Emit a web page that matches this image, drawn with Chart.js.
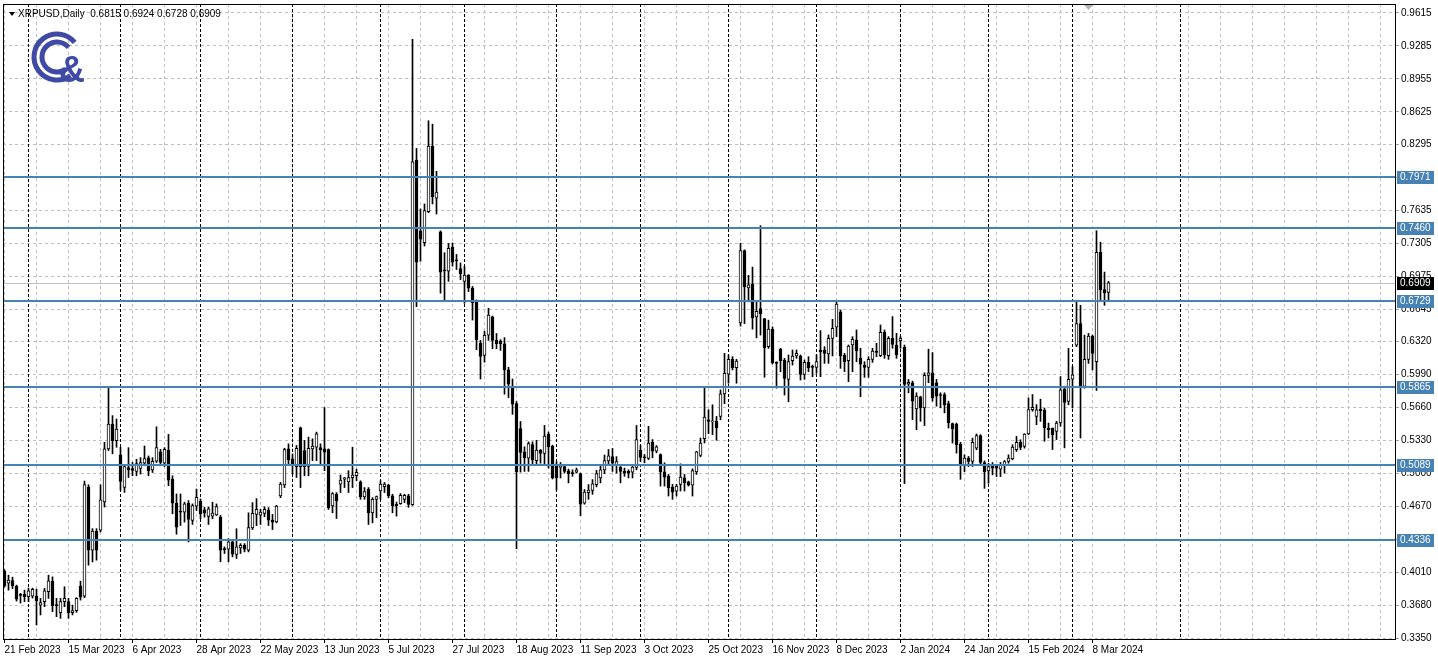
<!DOCTYPE html>
<html>
<head>
<meta charset="utf-8">
<script src="https://cdn.jsdelivr.net/npm/chart.js@4.4.1/dist/chart.umd.min.js"></script>
<style>
  html, body { margin: 0; padding: 0; background: #fff; }
  canvas { display: block; }
</style>
</head>
<body>
<canvas id="chart" width="1438" height="671"></canvas>
<script>
// daily XRPUSD bars, 21 Feb 2023 .. 14 Mar 2024 (weekdays only)
const opens = [
  0.4020,0.3900,0.3925,0.3870,0.3785,0.3787,0.3764,0.3770,0.3770,0.3680,
  0.3714,0.3814,0.3917,0.3680,0.3604,0.3714,0.3714,0.3604,0.3624,0.3870,
  0.3770,0.4863,0.4230,0.4420,0.4430,0.4713,0.5246,0.5495,0.5329,0.5185,
  0.4860,0.5059,0.5049,0.5019,0.5049,0.5102,0.5155,0.5036,0.5122,0.5215,
  0.5102,0.5231,0.4943,0.4701,0.4618,0.4611,0.4701,0.4528,0.4671,0.4721,
  0.4634,0.4568,0.4571,0.4585,0.4561,0.4246,0.4240,0.4313,0.4187,0.4253,
  0.4280,0.4230,0.4454,0.4589,0.4582,0.4599,0.4629,0.4531,0.4514,0.4774,
  0.4885,0.5246,0.5145,0.5067,0.5458,0.5229,0.5071,0.5246,0.5263,0.5260,
  0.5246,0.5239,0.4673,0.4791,0.4892,0.4942,0.4915,0.4956,0.4976,0.4915,
  0.4764,0.4841,0.4605,0.4740,0.4824,0.4868,0.4882,0.4774,0.4690,0.4696,
  0.4740,0.4774,0.4687,0.8140,0.7431,0.7313,0.7623,0.8282,0.7758,0.7421,
  0.7036,0.7026,0.7269,0.7137,0.7053,0.6925,0.6989,0.6857,0.6729,0.6307,
  0.6182,0.6385,0.6570,0.6334,0.6327,0.6300,0.6037,0.5868,0.5700,0.5450,
  0.5217,0.5152,0.5290,0.5128,0.5234,0.5201,0.5392,0.5273,0.5076,0.5059,
  0.5069,0.5026,0.5003,0.5013,0.4997,0.4701,0.4806,0.4829,0.4888,0.4954,
  0.5036,0.5125,0.5168,0.5086,0.5063,0.5020,0.5020,0.5013,0.5059,0.5230,
  0.5160,0.5149,0.5312,0.5222,0.5189,0.5016,0.4973,0.4863,0.4823,0.4890,
  0.4956,0.4916,0.4883,0.5016,0.5179,0.5349,0.5538,0.5515,0.5522,0.5571,
  0.5797,0.5994,0.6143,0.6060,0.6509,0.7234,0.6858,0.6895,0.6569,0.6652,
  0.6552,0.6270,0.6443,0.6110,0.6244,0.6137,0.5943,0.6130,0.6177,0.6177,
  0.5993,0.6113,0.6070,0.6063,0.6237,0.6237,0.6197,0.6354,0.6465,0.6619,
  0.6187,0.6130,0.6287,0.6337,0.6153,0.6086,0.6063,0.6143,0.6227,0.6180,
  0.6414,0.6180,0.6354,0.6287,0.6330,0.6264,0.5895,0.5909,0.5647,0.5768,
  0.5657,0.5983,0.6009,0.5909,0.5791,0.5791,0.5700,0.5499,0.5495,0.5294,
  0.5085,0.5153,0.5119,0.5253,0.5378,0.5109,0.5025,0.5092,0.5075,0.5042,
  0.5079,0.5119,0.5146,0.5237,0.5311,0.5270,0.5395,0.5640,0.5571,0.5645,
  0.5631,0.5455,0.5455,0.5422,0.5505,0.5844,0.5721,0.5944,0.6286,0.6502,
  0.5871,0.6143,0.6376,0.6120,0.7217,0.6842,0.6815
];
const highs = [
  0.4035,0.3980,0.3960,0.3880,0.3797,0.3830,0.3850,0.3850,0.3840,0.3747,
  0.3847,0.3980,0.3963,0.3747,0.3747,0.3864,0.3747,0.3680,0.3754,0.3920,
  0.4923,0.4886,0.4446,0.4446,0.4886,0.5312,0.5852,0.5579,0.5545,0.5262,
  0.5082,0.5258,0.5109,0.5142,0.5158,0.5275,0.5175,0.5158,0.5467,0.5241,
  0.5258,0.5391,0.4976,0.4794,0.4794,0.4711,0.4727,0.4694,0.4843,0.4744,
  0.4661,0.4661,0.4711,0.4694,0.4578,0.4263,0.4346,0.4329,0.4445,0.4296,
  0.4296,0.4605,0.4707,0.4747,0.4639,0.4666,0.4656,0.4589,0.4680,0.4909,
  0.5252,0.5296,0.5195,0.5279,0.5465,0.5330,0.5364,0.5347,0.5414,0.5296,
  0.5660,0.5246,0.4808,0.4808,0.4983,0.4959,0.5027,0.5263,0.5044,0.4926,
  0.4858,0.4858,0.4757,0.4774,0.4926,0.4909,0.4892,0.4791,0.4713,0.4798,
  0.4791,0.4791,0.9350,0.8258,0.7650,0.7701,0.8535,0.8501,0.8028,0.7431,
  0.7212,0.7306,0.7310,0.7195,0.7110,0.7077,0.6992,0.6874,0.6739,0.6334,
  0.6426,0.6655,0.6577,0.6402,0.6341,0.6361,0.6064,0.5946,0.5720,0.5520,
  0.5267,0.5316,0.5316,0.5332,0.5240,0.5481,0.5415,0.5283,0.5119,0.5109,
  0.5079,0.5043,0.5036,0.5053,0.5003,0.4839,0.4888,0.4938,0.5030,0.5076,
  0.5184,0.5240,0.5250,0.5168,0.5069,0.5053,0.5036,0.5086,0.5481,0.5280,
  0.5189,0.5472,0.5339,0.5279,0.5196,0.5106,0.4990,0.4890,0.4890,0.5096,
  0.4990,0.4923,0.5046,0.5222,0.5355,0.5854,0.5638,0.5688,0.5571,0.5837,
  0.6203,0.6187,0.6170,0.6143,0.7307,0.7241,0.6985,0.7068,0.6719,0.7483,
  0.6552,0.6536,0.6469,0.6120,0.6254,0.6153,0.6187,0.6237,0.6237,0.6187,
  0.6137,0.6170,0.6086,0.6187,0.6431,0.6270,0.6388,0.6545,0.6732,0.6639,
  0.6203,0.6287,0.6371,0.6438,0.6254,0.6120,0.6170,0.6254,0.6304,0.6488,
  0.6438,0.6371,0.6572,0.6404,0.6371,0.6287,0.5942,0.5925,0.5808,0.5774,
  0.6009,0.6245,0.6211,0.5942,0.5808,0.5808,0.5724,0.5505,0.5505,0.5311,
  0.5186,0.5170,0.5354,0.5395,0.5388,0.5126,0.5102,0.5109,0.5092,0.5109,
  0.5129,0.5186,0.5287,0.5371,0.5337,0.5398,0.5757,0.5791,0.5690,0.5744,
  0.5655,0.5505,0.5455,0.5522,0.5970,0.5854,0.6253,0.6070,0.6735,0.6685,
  0.6386,0.6403,0.6386,0.7433,0.7317,0.7018,0.6924
];
const lows = [
  0.3860,0.3830,0.3845,0.3720,0.3700,0.3715,0.3714,0.3750,0.3481,0.3581,
  0.3664,0.3747,0.3614,0.3564,0.3547,0.3664,0.3547,0.3581,0.3607,0.3730,
  0.3754,0.4080,0.4113,0.4130,0.4413,0.4663,0.5229,0.5196,0.5262,0.4830,
  0.4810,0.4959,0.4976,0.4976,0.4993,0.5076,0.4976,0.5009,0.5109,0.5076,
  0.5069,0.4877,0.4595,0.4390,0.4478,0.4512,0.4313,0.4488,0.4628,0.4545,
  0.4561,0.4488,0.4545,0.4578,0.4114,0.4197,0.4114,0.4163,0.4147,0.4197,
  0.4213,0.4213,0.4437,0.4477,0.4488,0.4565,0.4477,0.4437,0.4504,0.4757,
  0.4858,0.5077,0.4993,0.4959,0.4858,0.4976,0.4976,0.5128,0.5128,0.5094,
  0.5027,0.4639,0.4605,0.4548,0.4808,0.4858,0.4808,0.4858,0.4926,0.4740,
  0.4740,0.4488,0.4504,0.4555,0.4740,0.4808,0.4757,0.4605,0.4572,0.4690,
  0.4707,0.4660,0.4680,0.6672,0.7127,0.7279,0.7613,0.7701,0.7600,0.6807,
  0.6739,0.6925,0.7077,0.7043,0.6942,0.6705,0.6823,0.6537,0.6240,0.5946,
  0.6115,0.6334,0.6250,0.6250,0.6233,0.5794,0.5760,0.5592,0.4245,0.5013,
  0.5020,0.5020,0.5086,0.5086,0.5102,0.5086,0.5053,0.4944,0.4832,0.4954,
  0.5003,0.4905,0.4971,0.5003,0.4576,0.4691,0.4740,0.4790,0.4865,0.4905,
  0.4997,0.5086,0.5020,0.5003,0.4905,0.4971,0.4954,0.4954,0.5036,0.5120,
  0.5106,0.5139,0.5156,0.5206,0.4873,0.4873,0.4773,0.4740,0.4773,0.4823,
  0.4823,0.4873,0.4773,0.4990,0.5166,0.5305,0.5399,0.5389,0.5332,0.5538,
  0.5698,0.5904,0.6037,0.5904,0.6476,0.6502,0.6719,0.6446,0.6359,0.6386,
  0.5964,0.6253,0.6097,0.5854,0.6019,0.5785,0.5718,0.6086,0.6153,0.5936,
  0.5943,0.6019,0.5969,0.6003,0.5969,0.6103,0.6103,0.6177,0.6371,0.6053,
  0.6019,0.5919,0.6019,0.6120,0.5768,0.5963,0.5963,0.6113,0.6170,0.6170,
  0.6153,0.6143,0.6254,0.6153,0.6254,0.4898,0.5808,0.5539,0.5438,0.5522,
  0.5479,0.5909,0.5724,0.5673,0.5657,0.5606,0.5455,0.5304,0.5203,0.4941,
  0.5018,0.5069,0.5069,0.5237,0.5085,0.4850,0.4901,0.4985,0.4968,0.4968,
  0.5002,0.5102,0.5136,0.5220,0.5237,0.5253,0.5388,0.5623,0.5488,0.5522,
  0.5322,0.5355,0.5239,0.5339,0.5472,0.5256,0.5688,0.5655,0.6270,0.5355,
  0.5854,0.6103,0.6037,0.5831,0.6735,0.6685,0.6728
];
const closes = [
  0.3875,0.3930,0.3872,0.3740,0.3778,0.3764,0.3824,0.3837,0.3724,0.3704,
  0.3824,0.3924,0.3674,0.3674,0.3714,0.3747,0.3604,0.3624,0.3747,0.3760,
  0.4889,0.4230,0.4423,0.4230,0.4736,0.5246,0.5495,0.5329,0.5445,0.4920,
  0.5069,0.5036,0.5029,0.5099,0.5109,0.5149,0.5026,0.5122,0.5258,0.5109,
  0.5241,0.4933,0.4701,0.4460,0.4611,0.4694,0.4538,0.4677,0.4760,0.4595,
  0.4601,0.4644,0.4601,0.4668,0.4230,0.4236,0.4313,0.4190,0.4263,0.4280,
  0.4240,0.4458,0.4599,0.4639,0.4612,0.4639,0.4531,0.4511,0.4673,0.4892,
  0.5239,0.5135,0.5084,0.5252,0.5067,0.5067,0.5252,0.5273,0.5397,0.5236,
  0.5212,0.4656,0.4798,0.4723,0.4932,0.4956,0.4959,0.4983,0.5010,0.4764,
  0.4818,0.4605,0.4740,0.4767,0.4892,0.4892,0.4774,0.4673,0.4673,0.4781,
  0.4781,0.4690,0.8123,0.7117,0.7347,0.7634,0.8282,0.7775,0.7819,0.7016,
  0.7030,0.7256,0.7117,0.7131,0.7002,0.6989,0.6857,0.6712,0.6341,0.6172,
  0.6385,0.6587,0.6334,0.6300,0.6300,0.6037,0.5895,0.5693,0.5018,0.5211,
  0.5158,0.5300,0.5135,0.5234,0.5201,0.5375,0.5267,0.4954,0.4954,0.5073,
  0.5020,0.4997,0.4997,0.5036,0.4691,0.4813,0.4832,0.4895,0.4997,0.5036,
  0.5128,0.5175,0.5102,0.5119,0.5020,0.5003,0.5003,0.5063,0.5339,0.5160,
  0.5156,0.5305,0.5222,0.5266,0.5016,0.4963,0.4857,0.4813,0.4873,0.4963,
  0.4906,0.4883,0.5029,0.5216,0.5305,0.5565,0.5522,0.5528,0.5455,0.5797,
  0.6004,0.6143,0.6060,0.6127,0.7234,0.6868,0.6891,0.6559,0.6625,0.6602,
  0.6260,0.6446,0.6110,0.6103,0.6130,0.5953,0.6120,0.6177,0.6203,0.5993,
  0.6113,0.6060,0.6063,0.6120,0.6220,0.6203,0.6354,0.6455,0.6696,0.6177,
  0.6120,0.6277,0.6344,0.6230,0.6096,0.6063,0.6143,0.6227,0.6213,0.6414,
  0.6187,0.6354,0.6294,0.6187,0.6354,0.5892,0.5912,0.5724,0.5774,0.5657,
  0.5983,0.6009,0.5757,0.5774,0.5781,0.5690,0.5505,0.5445,0.5287,0.5085,
  0.5153,0.5119,0.5311,0.5378,0.5109,0.5018,0.5069,0.5052,0.5052,0.5085,
  0.5119,0.5153,0.5264,0.5311,0.5260,0.5395,0.5640,0.5663,0.5638,0.5628,
  0.5455,0.5438,0.5388,0.5505,0.5837,0.5711,0.5944,0.5987,0.6502,0.5861,
  0.6143,0.6376,0.6203,0.7217,0.6842,0.6808,0.6909
];

// one date label every 16 bars
const dateLabels = [
  '21 Feb 2023', '15 Mar 2023', '6 Apr 2023', '28 Apr 2023', '22 May 2023',
  '13 Jun 2023', '5 Jul 2023', '27 Jul 2023', '18 Aug 2023', '11 Sep 2023',
  '3 Oct 2023', '25 Oct 2023', '16 Nov 2023', '8 Dec 2023', '2 Jan 2024',
  '24 Jan 2024', '15 Feb 2024', '8 Mar 2024'
];
const priceTicks = [
  0.9615, 0.9285, 0.8955, 0.8625, 0.8295, 0.7965, 0.7635, 0.7305, 0.6975, 0.6645,
  0.6320, 0.5990, 0.5660, 0.5330, 0.5000, 0.4670, 0.4340, 0.4010, 0.3680, 0.3350
];
const levels = [0.7971, 0.7460, 0.6729, 0.5865, 0.5089, 0.4336];
const bidPrice = 0.6909;
// first bar of each month (period separators)
const monthStarts = [6, 29, 49, 72, 94, 115, 138, 159, 181, 203, 224, 246, 267, 294];

const FONT = '"Liberation Sans", Arial, sans-serif';
const FONT_SIZE = 10;
const BLUE = '#4682b4';
const TOTAL_SLOTS = 348; // bars that fit in the window incl. empty future space

const wickData = highs.map((h, i) => ({ x: i, y: [lows[i], h] }));
const bodyData = opens.map((o, i) => ({ x: i, y: [o, closes[i]] }));
const bodyFill = opens.map((o, i) => (closes[i] >= o ? '#ffffff' : '#000000'));

const gridTicks = [];
for (let b = 0; b < TOTAL_SLOTS; b += 8) gridTicks.push(b);

const decor = {
  id: 'decor',
  beforeDatasetsDraw(chart) {
    const { ctx, chartArea: a, scales: { x, y } } = chart;
    ctx.save();
    // month separators
    ctx.strokeStyle = '#000';
    ctx.lineWidth = 1;
    ctx.setLineDash([3, 2]);
    monthStarts.forEach(b => {
      const px = Math.floor(x.getPixelForValue(b)) + 0.5;
      if (px > a.right) return;
      ctx.beginPath();
      ctx.moveTo(px, a.top);
      ctx.lineTo(px, a.bottom);
      ctx.stroke();
    });
    // bid line
    ctx.setLineDash([]);
    ctx.strokeStyle = '#c0c0c0';
    const by = Math.round(y.getPixelForValue(bidPrice)) + 0.5;
    ctx.beginPath();
    ctx.moveTo(a.left, by);
    ctx.lineTo(a.right, by);
    ctx.stroke();
    ctx.restore();
  },
  afterDatasetsDraw(chart) {
    const { ctx, chartArea: a, scales: { y } } = chart;
    ctx.save();
    ctx.strokeStyle = BLUE;
    ctx.lineWidth = 2;
    levels.forEach(v => {
      const py = Math.round(y.getPixelForValue(v));
      ctx.beginPath();
      ctx.moveTo(a.left, py);
      ctx.lineTo(a.right, py);
      ctx.stroke();
    });
    ctx.restore();
  },
  afterDraw(chart) {
    const { ctx, chartArea: a, scales: { y } } = chart;
    ctx.save();
    // frame
    ctx.strokeStyle = '#000';
    ctx.lineWidth = 1;
    ctx.strokeRect(a.left + 0.5, a.top + 0.5, a.right - a.left, a.bottom - a.top);

    // price boxes on the right axis
    ctx.font = FONT_SIZE + 'px ' + FONT;
    ctx.textBaseline = 'middle';
    ctx.textAlign = 'left';
    const box = (v, fill) => {
      const py = Math.round(y.getPixelForValue(v));
      ctx.fillStyle = fill;
      ctx.fillRect(a.right + 2, py - 6, 37, 13);
      ctx.fillStyle = '#fff';
      ctx.fillText(v.toFixed(4), a.right + 5, py + 0.5);
    };
    levels.forEach(v => box(v, BLUE));
    box(bidPrice, '#000');

    // header
    ctx.fillStyle = '#000';
    ctx.beginPath();
    ctx.moveTo(9, 12); ctx.lineTo(15, 12); ctx.lineTo(12, 16); ctx.closePath();
    ctx.fill();
    ctx.fillText('XRPUSD,Daily  ' + [opens, highs, lows, closes].map(s => s[s.length - 1].toFixed(4)).join(' '), 18, 14.5);

    // shift marker
    ctx.fillStyle = '#b4b4b4';
    ctx.beginPath();
    ctx.moveTo(1084, 5); ctx.lineTo(1093, 5); ctx.lineTo(1088.5, 10); ctx.closePath();
    ctx.fill();

    // logo
    const cx = 57, cy = 57;
    ctx.strokeStyle = '#3e4aa6';
    ctx.fillStyle = '#3e4aa6';
    ctx.lineWidth = 5;
    [23, 15].forEach(r => {
      ctx.beginPath();
      ctx.arc(cx, cy, r, Math.PI * 0.3, Math.PI * 1.78);
      ctx.stroke();
    });
    ctx.font = 'bold 36px ' + FONT;
    ctx.textBaseline = 'alphabetic';
    ctx.fillText('&', 59, 82);
    ctx.restore();
  }
};

new Chart(document.getElementById('chart'), {
  type: 'bar',
  data: {
    datasets: [
      {
        data: wickData,
        backgroundColor: '#000',
        borderWidth: 0,
        barThickness: 1,
        grouped: false,
        order: 2
      },
      {
        data: bodyData,
        backgroundColor: bodyFill,
        borderColor: '#000',
        borderWidth: 1,
        borderSkipped: false,
        barThickness: 3,
        minBarLength: 1,
        grouped: false,
        order: 1
      }
    ]
  },
  options: {
    responsive: false,
    animation: false,
    events: [],
    layout: { padding: { left: 3, top: 4, right: 0, bottom: 0 } },
    plugins: { legend: { display: false }, tooltip: { enabled: false } },
    scales: {
      x: {
        type: 'linear',
        offset: false,
        min: -0.375,
        max: TOTAL_SLOTS - 0.375,
        afterBuildTicks: s => { s.ticks = gridTicks.map(v => ({ value: v })); },
        afterFit: s => { s.height = 32; s.paddingLeft = 0; s.paddingRight = 0; },
        grid: {
          offset: false,
          color: '#c0c0c0',
          tickLength: 4,
          tickColor: c => (c.tick && c.tick.value % 16 === 0 && c.tick.value / 16 < dateLabels.length ? '#000' : 'rgba(0,0,0,0)')
        },
        border: { display: false, dash: [3, 3] },
        ticks: {
          autoSkip: false,
          maxRotation: 0,
          align: 'start',
          padding: 1,
          color: '#000',
          font: { family: FONT, size: 10 },
          callback: v => (v % 16 === 0 ? (dateLabels[v / 16] || '') : '')
        }
      },
      y: {
        position: 'right',
        min: 0.3340,
        max: 0.97052,
        afterBuildTicks: s => { s.ticks = priceTicks.map(v => ({ value: v })); },
        afterFit: s => { s.width = 43; s.paddingTop = 0; s.paddingBottom = 0; },
        grid: { color: '#c0c0c0', tickLength: 4, tickColor: '#a0a0a0' },
        border: { display: false, dash: [3, 3] },
        ticks: {
          padding: 2,
          color: '#000',
          font: { family: FONT, size: FONT_SIZE },
          callback: v => v.toFixed(4)
        }
      }
    }
  },
  plugins: [decor]
});
</script>
</body>
</html>
